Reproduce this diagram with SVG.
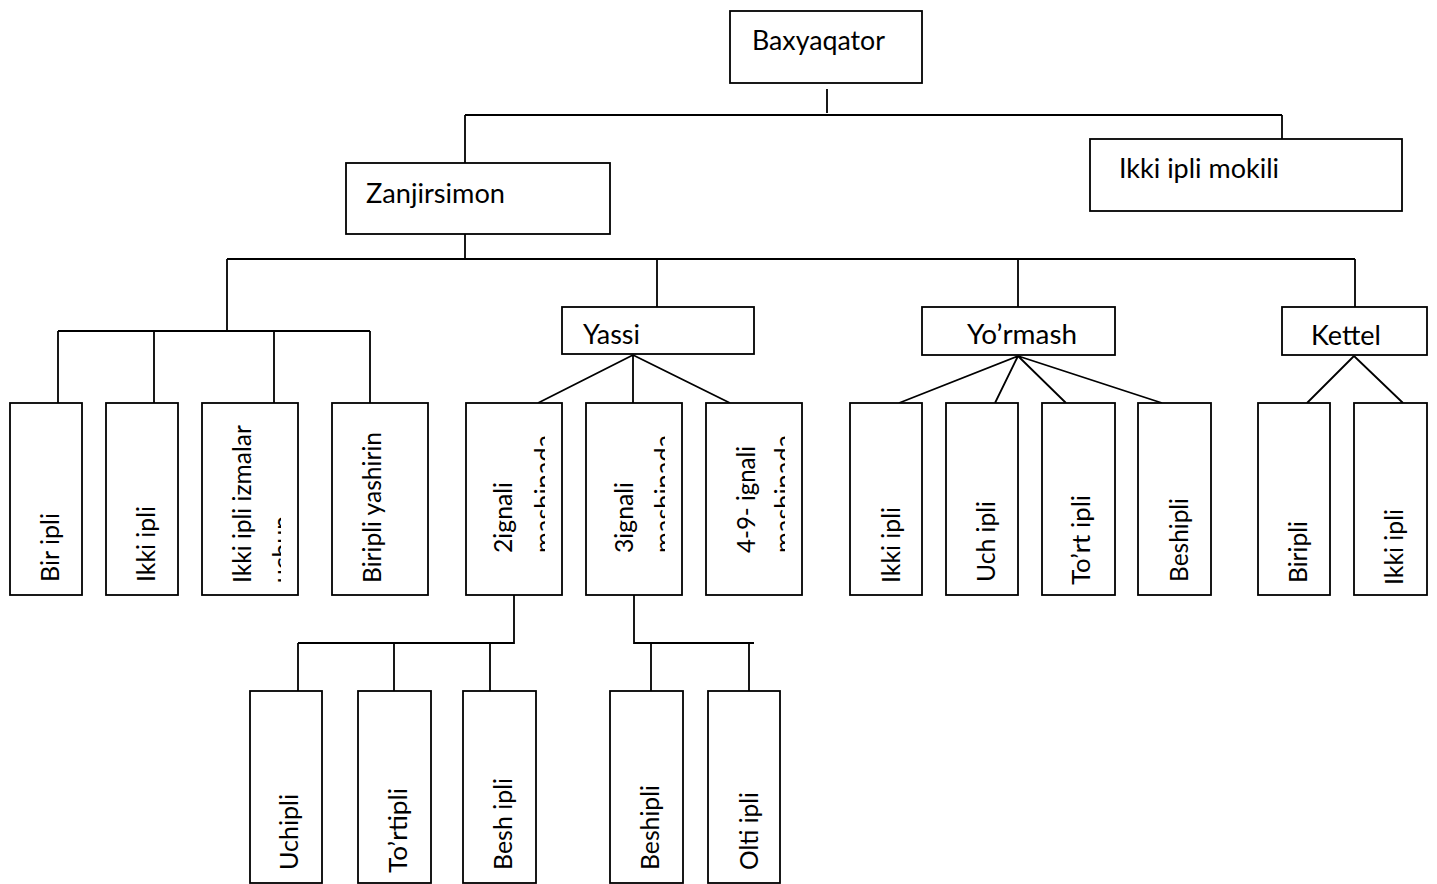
<svg xmlns="http://www.w3.org/2000/svg" width="1437" height="884" viewBox="0 0 1437 884">
  <style>
    .box { fill: #fff; stroke: #000; stroke-width: 1.8; }
    .wire { fill: none; stroke: #000; stroke-width: 1.8; }
    .h { font-family: Lato, "Open Sans", sans-serif; font-size: 26px; fill: #000; }
    .v { font-family: Lato, "Open Sans", sans-serif; font-size: 25px; fill: #000; }
  </style>
  <defs>
    <clipPath id="clip-izmalar"><rect x="203" y="404" width="78" height="190"/></clipPath>
    <clipPath id="clip-2ignali"><rect x="467" y="404" width="78" height="190"/></clipPath>
    <clipPath id="clip-3ignali"><rect x="587" y="404" width="78" height="190"/></clipPath>
    <clipPath id="clip-49ignali"><rect x="707" y="404" width="78" height="190"/></clipPath>
  </defs>
  <rect width="1437" height="884" fill="#fff"/>

  <!-- connectors -->
  <g id="connectors" class="wire">
    <path d="M827 89V113"/>
    <path d="M465 115H1282"/>
    <path d="M465 115V163"/>
    <path d="M1282 115V139"/>
    <path d="M465 234V259"/>
    <path d="M227 259H1355"/>
    <path d="M227 259V331"/>
    <path d="M58 331H370"/>
    <path d="M58 331V403M154 331V403M274 331V403M370 331V403"/>
    <path d="M657 259V307"/>
    <path d="M1018 259V307"/>
    <path d="M1355 259V307"/>
    <path d="M633 355L538 403M633 355V403M633 355L730 403"/>
    <path d="M1018 356L899 403M1018 356L995 403M1018 356L1066 403M1018 356L1162 403"/>
    <path d="M1354 356L1307 403M1354 356L1403 403"/>
    <path d="M514 595V643H298"/>
    <path d="M298 643V691M394 643V691M490 643V691"/>
    <path d="M634 595V643H754"/>
    <path d="M651 643V691M749 642V691"/>
  </g>

  <!-- top level -->
  <g id="baxyaqator">
    <rect class="box" x="730" y="11" width="192" height="72"/>
    <text class="h" x="752" y="50" textLength="133" lengthAdjust="spacingAndGlyphs">Baxyaqator</text>
  </g>
  <g id="zanjirsimon">
    <rect class="box" x="346" y="163" width="264" height="71"/>
    <text class="h" x="366" y="203" textLength="139" lengthAdjust="spacingAndGlyphs">Zanjirsimon</text>
  </g>
  <g id="ikki-ipli-mokili">
    <rect class="box" x="1090" y="139" width="312" height="72"/>
    <text class="h" x="1119" y="178" textLength="160" lengthAdjust="spacingAndGlyphs">Ikki ipli mokili</text>
  </g>

  <!-- second level -->
  <g id="yassi">
    <rect class="box" x="562" y="307" width="192" height="47"/>
    <text class="h" x="583" y="344" textLength="57" lengthAdjust="spacingAndGlyphs">Yassi</text>
  </g>
  <g id="yormash">
    <rect class="box" x="922" y="307" width="193" height="48"/>
    <text class="h" x="967" y="344" textLength="110" lengthAdjust="spacingAndGlyphs">Yo’rmash</text>
  </g>
  <g id="kettel">
    <rect class="box" x="1282" y="307" width="145" height="48"/>
    <text class="h" x="1311" y="345" textLength="70" lengthAdjust="spacingAndGlyphs">Kettel</text>
  </g>

  <!-- third level -->
  <g id="bir-ipli">
    <rect class="box" x="10" y="403" width="72" height="192"/>
    <text class="v" transform="translate(59 582) rotate(-90)" textLength="69" lengthAdjust="spacingAndGlyphs">Bir ipli</text>
  </g>
  <g id="ikki-ipli-1">
    <rect class="box" x="106" y="403" width="72" height="192"/>
    <text class="v" transform="translate(155 582) rotate(-90)" textLength="76" lengthAdjust="spacingAndGlyphs">Ikki ipli</text>
  </g>
  <g id="ikki-ipli-izmalar">
    <rect class="box" x="202" y="403" width="96" height="192"/>
    <g clip-path="url(#clip-izmalar)">
      <text class="v" transform="translate(251 583) rotate(-90)" textLength="158" lengthAdjust="spacingAndGlyphs">Ikki ipli izmalar</text>
      <text class="v" transform="translate(291 583) rotate(-90)" textLength="67" lengthAdjust="spacingAndGlyphs">uchun</text>
    </g>
  </g>
  <g id="biripli-yashirin">
    <rect class="box" x="332" y="403" width="96" height="192"/>
    <text class="v" transform="translate(381 583) rotate(-90)" textLength="151" lengthAdjust="spacingAndGlyphs">Biripli yashirin</text>
  </g>
  <g id="ignali-2">
    <rect class="box" x="466" y="403" width="96" height="192"/>
    <g clip-path="url(#clip-2ignali)">
      <text class="v" transform="translate(512 553) rotate(-90)" textLength="71" lengthAdjust="spacingAndGlyphs">2ignali</text>
      <text class="v" transform="translate(553 553) rotate(-90)" textLength="118" lengthAdjust="spacingAndGlyphs">mashinada</text>
    </g>
  </g>
  <g id="ignali-3">
    <rect class="box" x="586" y="403" width="96" height="192"/>
    <g clip-path="url(#clip-3ignali)">
      <text class="v" transform="translate(633 553) rotate(-90)" textLength="71" lengthAdjust="spacingAndGlyphs">3ignali</text>
      <text class="v" transform="translate(673 553) rotate(-90)" textLength="118" lengthAdjust="spacingAndGlyphs">mashinada</text>
    </g>
  </g>
  <g id="ignali-4-9">
    <rect class="box" x="706" y="403" width="96" height="192"/>
    <g clip-path="url(#clip-49ignali)">
      <text class="v" transform="translate(755 553) rotate(-90)" textLength="107" lengthAdjust="spacingAndGlyphs">4-9- ignali</text>
      <text class="v" transform="translate(793 553) rotate(-90)" textLength="118" lengthAdjust="spacingAndGlyphs">mashinada</text>
    </g>
  </g>
  <g id="ikki-ipli-2">
    <rect class="box" x="850" y="403" width="72" height="192"/>
    <text class="v" transform="translate(900 583) rotate(-90)" textLength="76" lengthAdjust="spacingAndGlyphs">Ikki ipli</text>
  </g>
  <g id="uch-ipli">
    <rect class="box" x="946" y="403" width="72" height="192"/>
    <text class="v" transform="translate(995 582) rotate(-90)" textLength="81" lengthAdjust="spacingAndGlyphs">Uch ipli</text>
  </g>
  <g id="tort-ipli">
    <rect class="box" x="1042" y="403" width="73" height="192"/>
    <text class="v" transform="translate(1090 585) rotate(-90)" textLength="90" lengthAdjust="spacingAndGlyphs">To’rt ipli</text>
  </g>
  <g id="beshipli-1">
    <rect class="box" x="1138" y="403" width="73" height="192"/>
    <text class="v" transform="translate(1188 582) rotate(-90)" textLength="84" lengthAdjust="spacingAndGlyphs">Beshipli</text>
  </g>
  <g id="biripli">
    <rect class="box" x="1258" y="403" width="72" height="192"/>
    <text class="v" transform="translate(1307 583) rotate(-90)" textLength="62" lengthAdjust="spacingAndGlyphs">Biripli</text>
  </g>
  <g id="ikki-ipli-3">
    <rect class="box" x="1354" y="403" width="73" height="192"/>
    <text class="v" transform="translate(1403 585) rotate(-90)" textLength="76" lengthAdjust="spacingAndGlyphs">Ikki ipli</text>
  </g>

  <!-- fourth level -->
  <g id="uchipli">
    <rect class="box" x="250" y="691" width="72" height="192"/>
    <text class="v" transform="translate(298 870) rotate(-90)" textLength="76" lengthAdjust="spacingAndGlyphs">Uchipli</text>
  </g>
  <g id="tortipli">
    <rect class="box" x="358" y="691" width="73" height="192"/>
    <text class="v" transform="translate(407 873) rotate(-90)" textLength="85" lengthAdjust="spacingAndGlyphs">To’rtipli</text>
  </g>
  <g id="besh-ipli">
    <rect class="box" x="463" y="691" width="73" height="192"/>
    <text class="v" transform="translate(512 870) rotate(-90)" textLength="92" lengthAdjust="spacingAndGlyphs">Besh ipli</text>
  </g>
  <g id="beshipli-2">
    <rect class="box" x="610" y="691" width="73" height="192"/>
    <text class="v" transform="translate(659 870) rotate(-90)" textLength="85" lengthAdjust="spacingAndGlyphs">Beshipli</text>
  </g>
  <g id="olti-ipli">
    <rect class="box" x="708" y="691" width="72" height="192"/>
    <text class="v" transform="translate(758 870) rotate(-90)" textLength="78" lengthAdjust="spacingAndGlyphs">Olti ipli</text>
  </g>
</svg>
